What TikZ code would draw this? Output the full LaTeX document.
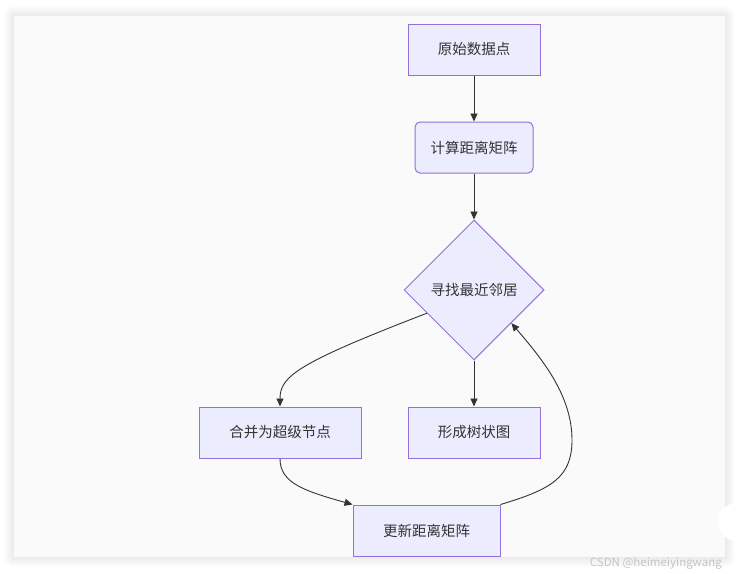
\documentclass[tikz,border=0pt]{standalone}
\usepackage{fontspec}
\setmainfont{Noto Sans CJK SC}
\usetikzlibrary{shapes.geometric,arrows.meta,calc}
\definecolor{boxfill}{HTML}{ECECFF}
\definecolor{boxline}{HTML}{9370DB}
\definecolor{edgecol}{HTML}{333333}
\definecolor{panel}{HTML}{FAFAFA}
\definecolor{wm}{HTML}{C4C4C4}
\begin{document}
\begin{tikzpicture}[x=1pt,y=-1pt,
  every node/.style={font=\fontsize{14.5}{17}\selectfont, text=edgecol},
  procbox/.style={draw=boxline, fill=boxfill, line width=1pt, minimum height=51pt, inner sep=0pt},
  decbox/.style={diamond, draw=boxline, fill=boxfill, line width=1pt, minimum width=140pt, minimum height=140pt, aspect=1, inner sep=0pt},
  flow/.style={draw=edgecol, line width=0.9pt, -{Triangle[length=8pt,width=7pt]}},
  shadowring/.style={fill=black, fill opacity=0.008}
]
\useasboundingbox (0,0) rectangle (739,573);
\fill[white] (0,0) rectangle (739,573);
% soft shadow round the panel
\foreach \d in {1,...,10} {
  \fill[shadowring, rounded corners=\d pt] (14-\d,16-\d) rectangle (725+\d,557+\d);
}
\fill[panel] (14,16) rectangle (725,557);
% side button
\fill[white] (737,522) circle (19);
% nodes
\node[procbox, minimum width=132pt] (raw) at (474,49.5) {原始数据点};
\node[procbox, minimum width=118pt, rounded corners=5pt] (dist) at (474,147.5) {计算距离矩阵};
\node[decbox] (near) at (474,290) {寻找最近邻居};
\node[procbox, minimum width=162pt] (merge) at (280,432.5) {合并为超级节点};
\node[procbox, minimum width=132pt] (tree) at (474,432.5) {形成树状图};
\node[procbox, minimum width=147pt] (upd) at (426.5,530.5) {更新距离矩阵};
% connectors
\draw[flow] (raw.south) -- (dist.north);
\draw[flow] (dist.south) -- (near.north);
\draw[flow] ($(near.west)!0.33!(near.south)$) .. controls +(-130,50) and +(0,-30) .. (merge.north);
\draw[flow] (near.south) -- (tree.north);
\draw[flow] (merge.south) .. controls +(0,24) and +(-50,-14) .. (upd.north west);
\draw[flow] (upd.north east) .. controls +(50,-15) and +(0,38) .. (572,440) coordinate (bend)
  .. controls +(0,-45) and +(30,35) .. ($(near.east)!0.47!(near.south)$);
% watermark
\node[anchor=base east, text=wm, font=\fontsize{11.5}{14}\selectfont, inner sep=0pt] (mark) at (722,566) {CSDN @heimeiyingwang};
\end{tikzpicture}
\end{document}
